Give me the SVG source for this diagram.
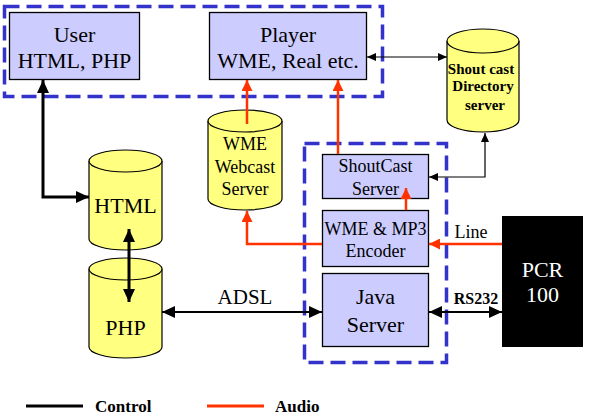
<svg xmlns="http://www.w3.org/2000/svg" width="589" height="418" viewBox="0 0 589 418">
<style>
.box{fill:#ccccff;stroke:#000;stroke-width:1.3}
.cyl{fill:#ffff80;stroke:#000;stroke-width:1.2}
.grp{fill:none;stroke:#3333cc;stroke-width:3.5;stroke-dasharray:15 7}
text{font-family:'Liberation Serif','Times New Roman','DejaVu Serif',serif;text-anchor:middle;fill:#000}
.b{font-weight:bold}
.ck{fill:none;stroke:#000}
.au{fill:none;stroke:#ff3300;stroke-width:2.5}
</style>
<defs>
<marker id="ab" markerUnits="userSpaceOnUse" markerWidth="14" markerHeight="12" refX="13" refY="6" orient="auto-start-reverse"><path d="M0,0 L13,6 L0,12 Z" fill="#000"/></marker>
<marker id="as" markerUnits="userSpaceOnUse" markerWidth="9" markerHeight="8" refX="9" refY="4" orient="auto-start-reverse"><path d="M0,0 L9,4 L0,8 Z" fill="#000"/></marker>
<marker id="ar" markerUnits="userSpaceOnUse" markerWidth="11" markerHeight="11" refX="11" refY="5.5" orient="auto"><path d="M0,0 L11,5.5 L0,11 Z" fill="#ff3300"/></marker>
</defs>
<rect class="grp" x="4.5" y="6.5" width="378" height="90"/>
<rect class="grp" x="304.5" y="143.5" width="142" height="219"/>
<g id="user"><rect class="box" x="9.5" y="12.5" width="130" height="67"/><text x="74.5" y="42" font-size="22">User</text><text x="74.5" y="68" font-size="22">HTML, PHP</text></g>
<g id="player"><rect class="box" x="209.5" y="12.5" width="157" height="67"/><text x="288" y="42" font-size="22">Player</text><text x="288" y="68" font-size="22">WME, Real etc.</text></g>
<g id="directory"><path class="cyl" d="M447,41 A36,12 0 0 1 519,41 V120 A36,12 0 0 1 447,120 Z"/><path class="cyl" d="M447,41 A36,12 0 0 0 519,41"/><text class="b" x="481" y="74" font-size="15">Shout cast</text><text class="b" x="483" y="91" font-size="15">Directory</text><text class="b" x="485" y="110" font-size="15">server</text></g>
<g id="webcast"><path class="cyl" d="M208,121 A37,11 0 0 1 282,121 V199 A37,11 0 0 1 208,199 Z"/><path class="cyl" d="M208,121 A37,11 0 0 0 282,121"/><text x="245" y="150" font-size="18">WME</text><text x="245" y="173" font-size="18">Webcast</text><text x="245" y="195" font-size="18">Server</text></g>
<g id="html"><path class="cyl" d="M89,161 A36.5,11 0 0 1 162,161 V239 A36.5,11 0 0 1 89,239 Z"/><path class="cyl" d="M89,161 A36.5,11 0 0 0 162,161"/><text x="125.5" y="213" font-size="22">HTML</text></g>
<g id="php"><path class="cyl" d="M89,269 A36.5,11 0 0 1 162,269 V347 A36.5,11 0 0 1 89,347 Z"/><path class="cyl" d="M89,269 A36.5,11 0 0 0 162,269"/><text x="125.5" y="335" font-size="22">PHP</text></g>
<g id="shoutcast"><rect class="box" x="322.5" y="154.5" width="106" height="44"/><text x="375.5" y="172" font-size="18">ShoutCast</text><text x="375.5" y="195" font-size="18">Server</text></g>
<g id="encoder"><rect class="box" x="322.5" y="210.5" width="106" height="56"/><text x="375.5" y="235" font-size="18">WME &amp; MP3</text><text x="375.5" y="257" font-size="18">Encoder</text></g>
<g id="java"><rect class="box" x="322.5" y="273.5" width="106" height="73"/><text x="375.5" y="304" font-size="22">Java</text><text x="375.5" y="332" font-size="22">Server</text></g>
<g id="pcr"><rect x="502" y="216" width="81" height="131" fill="#000"/><text x="542.5" y="277" font-size="22" style="fill:#fff">PCR</text><text x="542.5" y="302" font-size="22" style="fill:#fff">100</text></g>
<g id="connectors">
<path class="ck" stroke-width="3" d="M43,80 V197 H89" marker-start="url(#ab)" marker-end="url(#ab)"/>
<path class="ck" stroke-width="3" d="M129,229 V302" marker-start="url(#ab)" marker-end="url(#ab)"/>
<path class="ck" stroke-width="2" d="M162,312 H322" marker-start="url(#ab)" marker-end="url(#ab)"/>
<path class="ck" stroke-width="2" d="M429,312 H502" marker-start="url(#ab)" marker-end="url(#ab)"/>
<path class="ck" stroke-width="1.2" d="M367,57 H447" marker-start="url(#as)" marker-end="url(#as)"/>
<path class="ck" stroke-width="1.2" d="M485,133 V177 H429" marker-start="url(#as)" marker-end="url(#as)"/>
<path class="au" d="M247,124 V80" marker-end="url(#ar)"/>
<path class="au" d="M338,154 V80" marker-end="url(#ar)"/>
<path class="au" d="M406,210 V188" marker-end="url(#ar)"/>
<path class="au" d="M322,244 H247 V211" marker-end="url(#ar)"/>
<path class="au" d="M502,244 H429" marker-end="url(#ar)"/>
<text x="245" y="304" font-size="21">ADSL</text>
<text x="471" y="238" font-size="18">Line</text>
<text class="b" x="476" y="304" font-size="16">RS232</text>
</g>
<g id="legend">
<line x1="26" y1="406" x2="83" y2="406" stroke="#000" stroke-width="3"/>
<text class="b" x="95" y="412" font-size="17" style="text-anchor:start">Control</text>
<line x1="207" y1="406" x2="264" y2="406" stroke="#ff3300" stroke-width="3"/>
<text class="b" x="275" y="412" font-size="17" style="text-anchor:start">Audio</text>
</g>
</svg>
